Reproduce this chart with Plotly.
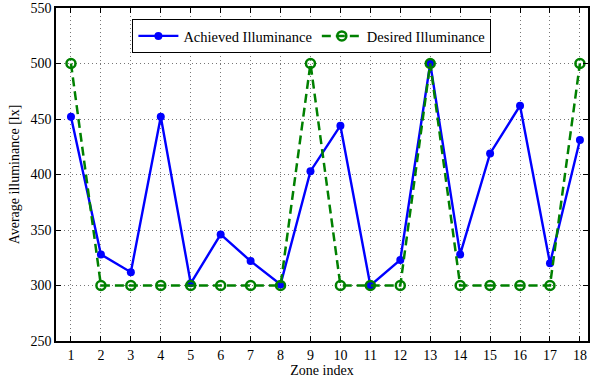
import plotly.graph_objects as go

zones = list(range(1, 19))
achieved = [452, 328, 312, 452, 302, 346, 322, 301, 403, 444, 300, 323, 500, 328, 419, 462, 320, 431]
desired = [500, 300, 300, 300, 300, 300, 300, 300, 500, 300, 300, 300, 500, 300, 300, 300, 300, 500]
y_ticks = [250, 300, 350, 400, 450, 500, 550]

font_family = "Liberation Serif"

fig = go.Figure()
fig.add_trace(go.Scatter(
    x=zones, y=achieved, name="Achieved Illuminance",
    mode="lines+markers",
    line=dict(color="#0000ff", width=2.4),
    marker=dict(symbol="circle", size=8, color="#0000ff"),
))
fig.add_trace(go.Scatter(
    x=zones, y=desired, name="Desired Illuminance",
    mode="lines+markers",
    line=dict(color="#008000", width=2.5, dash="9px,5px"),
    marker=dict(symbol="circle-open", size=9, color="#008000", line=dict(width=2.5, color="#008000")),
))

axis_common = dict(
    showline=True, linecolor="black", linewidth=1.5, mirror="ticks",
    ticks="inside", ticklen=5, tickcolor="black", tickwidth=1,
    showgrid=True, gridcolor="#777777", griddash="1px,3px", gridwidth=1,
    zeroline=False,
    tickfont=dict(family=font_family, size=14, color="black"),
)

fig.update_xaxes(
    range=[0.5, 18.27], tickvals=zones,
    title=dict(text="Zone index", font=dict(family=font_family, size=14, color="black"), standoff=2),
    **axis_common,
)
fig.update_yaxes(
    range=[250, 550], tickvals=y_ticks,
    title=dict(text="Average illuminance [lx]", font=dict(family=font_family, size=14, color="black"), standoff=8),
    **axis_common,
)

fig.update_layout(
    width=590, height=380,
    margin=dict(l=56, r=0, t=8, b=39),
    paper_bgcolor="white", plot_bgcolor="white",
    font=dict(family=font_family, size=14, color="black"),
    showlegend=True,
    legend=dict(
        orientation="h", x=0.481, xanchor="center", y=0.967, yanchor="top",
        bgcolor="white", bordercolor="black", borderwidth=1,
        font=dict(family=font_family, size=14.5, color="black"),
        itemwidth=40,
    ),
)

fig.write_html("out.html")
